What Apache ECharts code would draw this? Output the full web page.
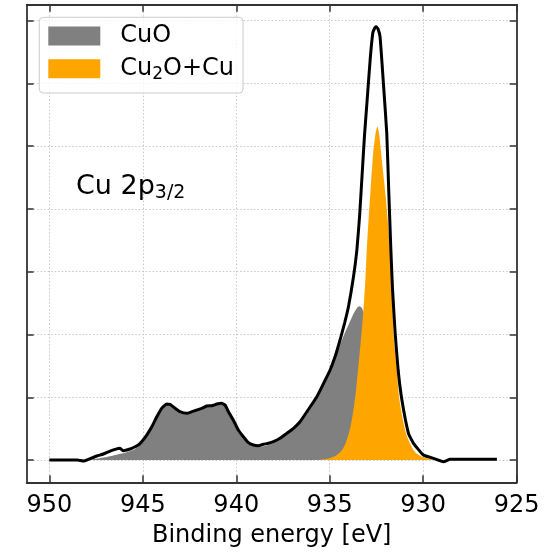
<!DOCTYPE html>
<html>
<head>
<meta charset="utf-8">
<script src="https://cdn.jsdelivr.net/npm/echarts@6/dist/echarts.min.js"></script>
<style>
html,body{margin:0;padding:0;background:#fff;}
#main{width:547px;height:552px;}
</style>
</head>
<body>
<div id="main"></div>
<script>
// ---- data (binding energy in eV, intensity in arbitrary units) ----
const totalE = [950.0, 948.5, 948.18, 947.91, 947.46, 947.11, 946.75, 946.48, 946.22, 946.04, 945.86, 945.59, 945.41, 945.24, 945.06,
  944.79, 944.52, 944.25, 943.99, 943.72, 943.54, 943.27, 943.01, 942.65, 942.38, 942.11, 941.85, 941.58, 941.31, 941.04,
  940.78, 940.60, 940.42, 940.16, 939.89, 939.62, 939.35, 939.09, 938.82, 938.55, 938.28, 938.01, 937.66, 937.30, 936.94,
  936.59, 936.2, 935.69, 935.3, 934.98, 934.7, 934.45, 934.2, 934.0, 933.73, 933.55, 933.40, 933.27, 933.14, 933.00,
  932.84, 932.70, 932.60, 932.52, 932.42, 932.31, 932.13, 931.95, 931.84, 931.73, 931.64, 931.50, 931.34, 931.14,
  930.79, 930.52, 929.99, 929.45, 928.92, 928.56, 926.06];
const totalV = [0.0, 0.0, -0.016, 0.011, 0.064, 0.096, 0.143, 0.170, 0.186, 0.148, 0.159, 0.186, 0.212, 0.239, 0.292,
  0.398, 0.531, 0.690, 0.824, 0.892, 0.887, 0.824, 0.770, 0.744, 0.770, 0.797, 0.824, 0.860, 0.865, 0.892,
  0.903, 0.876, 0.770, 0.637, 0.478, 0.371, 0.276, 0.239, 0.228, 0.250, 0.266, 0.292, 0.346, 0.425, 0.505,
  0.610, 0.78, 1.009, 1.24, 1.434, 1.66, 1.912, 2.19, 2.443, 2.921, 3.346, 3.904, 4.541, 5.178, 5.736,
  6.374, 6.799, 6.88, 6.904, 6.87, 6.745, 6.002, 5.206, 4.25, 3.346, 2.71, 2.02, 1.43, 0.956,
  0.425, 0.266, 0.080, 0.027, -0.027, 0.011, 0.011];

const cuoE = [950.0, 948.2, 947.9, 947.5, 947.1, 946.75, 946.4, 946.0, 945.6, 945.3, 945.06, 944.79, 944.52, 944.25, 943.99,
  943.72, 943.54, 943.27, 943.01, 942.65, 942.38, 942.11, 941.85, 941.58, 941.31, 941.04, 940.78, 940.60, 940.42, 940.16,
  939.89, 939.62, 939.35, 939.09, 938.82, 938.55, 938.28, 938.01, 937.66, 937.30, 936.94, 936.59, 936.2, 935.69, 935.3,
  934.98, 934.7, 934.45, 934.2, 934.0, 933.73, 933.55, 933.42, 933.3, 933.2, 933.0, 932.8, 932.6, 932.4, 932.2,
  932.0, 931.8, 931.6, 931.4, 931.1, 930.7, 930.2, 926.06];
const cuoV = [0.0, 0.0, 0.005, 0.02, 0.04, 0.06, 0.085, 0.11, 0.15, 0.2, 0.26, 0.38, 0.52, 0.68, 0.81,
  0.88, 0.875, 0.815, 0.76, 0.735, 0.76, 0.785, 0.81, 0.85, 0.855, 0.88, 0.89, 0.865, 0.76, 0.625,
  0.465, 0.36, 0.265, 0.225, 0.21, 0.22, 0.24, 0.27, 0.33, 0.41, 0.49, 0.595, 0.74, 0.99, 1.22,
  1.41, 1.62, 1.83, 2.02, 2.15, 2.33, 2.42, 2.45, 2.43, 2.36, 2.15, 1.85, 1.5, 1.15, 0.85,
  0.6, 0.4, 0.25, 0.14, 0.06, 0.02, 0.0, 0.0];

const cu2oE = [935.8, 935.5, 935.0, 934.62, 934.3, 934.09, 933.9, 933.73, 933.6, 933.47, 933.33, 933.20, 933.1, 933.02,
  932.92, 932.84, 932.75, 932.66, 932.55, 932.45, 932.36, 932.27, 932.15, 931.99, 931.80, 931.68, 931.59, 931.43,
  931.27, 930.92, 930.6, 930.34, 929.81, 929.3, 928.8];
const cu2oV = [0.0, 0.005, 0.03, 0.08, 0.18, 0.32, 0.52, 0.80, 1.1, 1.49, 1.93, 2.39, 2.85, 3.35,
  3.85, 4.2, 4.6, 4.94, 5.2, 5.31, 5.2, 4.94, 4.6, 4.14, 3.45, 2.8, 2.02, 1.49,
  0.956, 0.425, 0.2, 0.1, 0.025, 0.005, 0.0];

const xTicks = [925, 930, 935, 940, 945, 950];
const yTicks = [0, 1, 2, 3, 4, 5, 6, 7];
const seriesNames = ['CuO', 'Cu2O+Cu', 'Total'];

function pairs(xs, ys) { return xs.map((x, i) => [x, ys[i]]); }

const FONT = 'DejaVu Sans';
const frame = { color: '#333', width: 1.8 };
const tickStyle = { color: '#333', width: 1.5 };
const gridLine = { color: '#c8c8c8', width: 1, type: [1.5, 2] };

const chart = echarts.init(document.getElementById('main'), null, { renderer: 'canvas' });
chart.setOption({
  animation: false,
  backgroundColor: '#fff',
  textStyle: { fontFamily: FONT },
  grid: { left: 26.7, right: 30.3, top: 4.7, bottom: 69.7, containLabel: false, outerBoundsMode: 'none' },
  xAxis: [{
    type: 'value', min: 925, max: 951.21, inverse: true, position: 'bottom',
    axisLine: { show: true, onZero: false, lineStyle: frame },
    axisTick: { show: true, inside: true, length: 7, lineStyle: tickStyle, customValues: xTicks },
    axisLabel: { show: true, customValues: xTicks, margin: 11, color: '#000', fontSize: 24, fontFamily: FONT },
    splitLine: { show: true, lineStyle: gridLine },
    name: 'Binding energy [eV]', nameLocation: 'middle', nameGap: 41,
    nameTextStyle: { color: '#000', fontSize: 24, fontFamily: FONT }
  }, {
    type: 'value', min: 925, max: 951.21, inverse: true, position: 'top',
    axisLine: { show: true, onZero: false, lineStyle: frame },
    axisTick: { show: true, inside: true, length: 7, lineStyle: tickStyle, customValues: xTicks },
    axisLabel: { show: false }, splitLine: { show: false }
  }],
  yAxis: [{
    type: 'value', min: -0.355, max: 7.255, position: 'left',
    axisLine: { show: true, onZero: false, lineStyle: frame },
    axisTick: { show: true, inside: true, length: 7, lineStyle: tickStyle, customValues: yTicks },
    axisLabel: { show: false, customValues: yTicks },
    splitLine: { show: true, lineStyle: gridLine }
  }, {
    type: 'value', min: -0.355, max: 7.255, position: 'right',
    axisLine: { show: true, onZero: false, lineStyle: frame },
    axisTick: { show: true, inside: true, length: 7, lineStyle: tickStyle, customValues: yTicks },
    axisLabel: { show: false }, splitLine: { show: false }
  }],
  legend: {
    data: [seriesNames[0], seriesNames[1]],
    orient: 'vertical', left: 39.3, top: 17.3,
    icon: 'rect', itemWidth: 52, itemHeight: 19, itemGap: 8.7,
    padding: [6.7, 9, 10.3, 9],
    backgroundColor: 'rgba(255,255,255,0.8)', borderColor: '#cccccc', borderWidth: 1, borderRadius: 4,
    itemStyle: { borderWidth: 0 },
    textStyle: {
      padding: [0, 0, 0, 15], fontFamily: FONT, color: '#000',
      rich: {
        n: { fontSize: 24, lineHeight: 28, fontFamily: FONT, color: '#000' },
        s: { fontSize: 17, lineHeight: 17, verticalAlign: 'bottom', fontFamily: FONT, color: '#000' }
      }
    },
    formatter: function (name) {
      return name === 'Cu2O+Cu' ? '{n|Cu}{s|2}{n|O+Cu}' : '{n|' + name + '}';
    }
  },
  graphic: [{
    type: 'text', left: 76, top: 173, z: 10,
    style: {
      text: '{a|Cu 2p}{b|3/2}',
      rich: {
        a: { fontSize: 27, lineHeight: 32, fontFamily: FONT, fill: '#000' },
        b: { fontSize: 19, lineHeight: 19, verticalAlign: 'bottom', fontFamily: FONT, fill: '#000' }
      }
    }
  }],
  series: [{
    name: seriesNames[0], type: 'line', data: pairs(cuoE, cuoV), showSymbol: false, smooth: 0.3,
    color: '#808080', lineStyle: { width: 0 }, areaStyle: { color: '#808080', opacity: 1 }, z: 1
  }, {
    name: seriesNames[1], type: 'line', data: pairs(cu2oE, cu2oV), showSymbol: false, smooth: 0.3,
    color: '#FFA500', lineStyle: { width: 0 }, areaStyle: { color: '#FFA500', opacity: 1 }, z: 2
  }, {
    name: seriesNames[2], type: 'line', data: pairs(totalE, totalV), showSymbol: false, smooth: 0.15,
    color: '#000', lineStyle: { width: 3, color: '#000' }, z: 3
  }]
});
</script>
</body>
</html>
